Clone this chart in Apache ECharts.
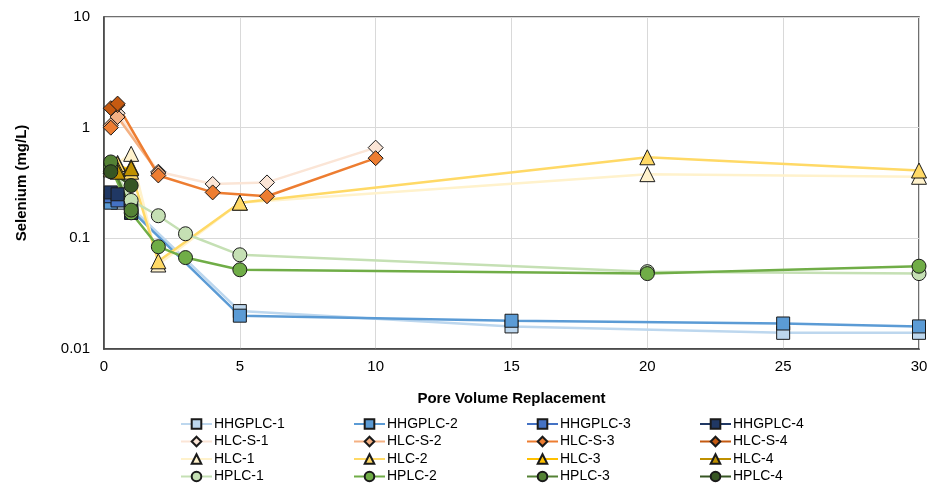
<!DOCTYPE html>
<html>
<head>
<meta charset="utf-8">
<script src="https://cdn.jsdelivr.net/npm/echarts@6/dist/echarts.min.js"></script>
<style>
  html, body { margin: 0; padding: 0; background: #fff; }
  #chart { width: 927px; height: 493px; }
</style>
</head>
<body>
<div id="chart"></div>
<script>
// [pore volume, selenium mg/L]
var hhgplc1 = [[0.25, 0.22], [0.5, 0.21], [1, 0.19], [5, 0.022], [15, 0.016], [25, 0.014], [30, 0.014]];
var hhgplc2 = [[0.25, 0.21], [0.5, 0.23], [1, 0.18], [5, 0.020], [15, 0.018], [25, 0.017], [30, 0.016]];
var hhgplc3 = [[0.25, 0.24], [0.5, 0.22], [1, 0.17]];
var hhgplc4 = [[0.25, 0.26], [0.5, 0.25], [1, 0.17]];

var hlcs1 = [[0.5, 1.35], [2, 0.40], [4, 0.31], [6, 0.32], [10, 0.66]];
var hlcs2 = [[0.25, 1.05], [0.5, 1.25], [2, 0.39]];
var hlcs3 = [[0.25, 1.0], [0.5, 1.6], [2, 0.37], [4, 0.26], [6, 0.24], [10, 0.53]];
var hlcs4 = [[0.25, 1.5], [0.5, 1.65]];

var hlc1 = [[0.25, 0.45], [0.5, 0.48], [1, 0.58], [2, 0.058], [5, 0.21], [20, 0.38], [30, 0.36]];
var hlc2 = [[0.25, 0.42], [0.5, 0.47], [1, 0.40], [2, 0.062], [5, 0.21], [20, 0.54], [30, 0.41]];
var hlc3 = [[0.25, 0.45], [0.5, 0.42], [1, 0.44]];
var hlc4 = [[0.25, 0.47], [0.5, 0.40], [1, 0.43]];

var hplc1 = [[0.25, 0.47], [1, 0.22], [2, 0.16], [3, 0.11], [5, 0.071], [20, 0.050], [30, 0.048]];
var hplc2 = [[0.25, 0.44], [1, 0.17], [2, 0.084], [3, 0.067], [5, 0.052], [20, 0.048], [30, 0.056]];
var hplc3 = [[0.25, 0.49], [1, 0.18]];
var hplc4 = [[0.25, 0.40], [1, 0.30]];

var xTicks = [0, 5, 10, 15, 20, 25, 30];

var font = "'Liberation Sans', Arial, sans-serif";

function mk(name, data, color, symbol, size) {
  return {
    name: name,
    type: 'line',
    data: data,
    symbol: symbol,
    symbolSize: size,
    lineStyle: { color: color, width: 2.5 },
    itemStyle: { color: color, borderColor: '#1a1a1a', borderWidth: 1 },
    emphasis: { disabled: true },
    animation: false
  };
}

var series = [
  mk('HHGPLC-1', hhgplc1, '#BDD7EE', 'rect', 13),
  mk('HHGPLC-2', hhgplc2, '#5B9BD5', 'rect', 13),
  mk('HHGPLC-3', hhgplc3, '#4472C4', 'rect', 13),
  mk('HHGPLC-4', hhgplc4, '#203864', 'rect', 13),
  mk('HLC-S-1', hlcs1, '#FBE5D6', 'diamond', 15),
  mk('HLC-S-2', hlcs2, '#F4B183', 'diamond', 15),
  mk('HLC-S-3', hlcs3, '#ED7D31', 'diamond', 15),
  mk('HLC-S-4', hlcs4, '#C55A11', 'diamond', 15),
  mk('HLC-1', hlc1, '#FFF2CC', 'triangle', 15),
  mk('HLC-2', hlc2, '#FFD966', 'triangle', 15),
  mk('HLC-3', hlc3, '#FFC000', 'triangle', 15),
  mk('HLC-4', hlc4, '#BF9000', 'triangle', 15),
  mk('HPLC-1', hplc1, '#C5E0B4', 'circle', 14),
  mk('HPLC-2', hplc2, '#70AD47', 'circle', 14),
  mk('HPLC-3', hplc3, '#548235', 'circle', 14),
  mk('HPLC-4', hplc4, '#375623', 'circle', 14)
];

function legendCol(left, names) {
  return {
    orient: 'vertical',
    left: left,
    top: 412,
    itemGap: 3.5,
    itemWidth: 31,
    itemHeight: 12,
    selectedMode: false,
    textStyle: { fontFamily: font, fontSize: 14, color: '#000', padding: [0, 0, 0, -3] },
    data: names
  };
}

var chart = echarts.init(document.getElementById('chart'));
chart.setOption({
  animation: false,
  grid: {
    left: 104, right: 8, top: 17, bottom: 144,
    outerBoundsMode: 'none',
    show: true, borderColor: '#404040', borderWidth: 1.5
  },
  legend: [
    legendCol(175, ['HHGPLC-1', 'HLC-S-1', 'HLC-1', 'HPLC-1']),
    legendCol(348, ['HHGPLC-2', 'HLC-S-2', 'HLC-2', 'HPLC-2']),
    legendCol(521, ['HHGPLC-3', 'HLC-S-3', 'HLC-3', 'HPLC-3']),
    legendCol(694, ['HHGPLC-4', 'HLC-S-4', 'HLC-4', 'HPLC-4'])
  ],
  xAxis: {
    type: 'value',
    min: xTicks[0],
    max: xTicks[xTicks.length - 1],
    interval: 5,
    name: 'Pore Volume Replacement',
    nameLocation: 'middle',
    nameGap: 42,
    nameTextStyle: { fontFamily: font, fontSize: 15, fontWeight: 'bold', color: '#000' },
    axisLine: { lineStyle: { color: '#404040', width: 1.5 } },
    axisTick: { show: false },
    axisLabel: { fontFamily: font, fontSize: 15, color: '#000', margin: 10 },
    splitLine: { show: true, lineStyle: { color: '#D9D9D9', width: 1 } }
  },
  yAxis: {
    type: 'log',
    logBase: 10,
    min: 0.01,
    max: 10,
    name: 'Selenium (mg/L)',
    nameLocation: 'middle',
    nameGap: 75,
    nameTextStyle: { fontFamily: font, fontSize: 15, fontWeight: 'bold', color: '#000' },
    axisLine: { show: true, lineStyle: { color: '#404040', width: 1.5 } },
    axisTick: { show: false },
    axisLabel: { fontFamily: font, fontSize: 15, color: '#000', margin: 14 },
    splitLine: { show: true, lineStyle: { color: '#D9D9D9', width: 1 } }
  },
  series: series
});
</script>
</body>
</html>
